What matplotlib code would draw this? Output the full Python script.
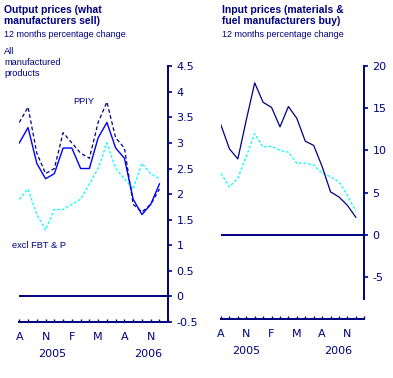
# producer prices: output vs input, 12 month % change
import matplotlib.pyplot as plt

navy = "#000080"
blue = "#0000ff"
cyan = "#00ffff"

# meses de ago/2005 a dez/2006
months = list(range(17))
tick_pos = [0, 3, 6, 9, 12, 15]
tick_lbl = ["A", "N", "F", "M", "A", "N"]

# output prices
out_all = [3.0, 3.3, 2.6, 2.3, 2.4, 2.9, 2.9, 2.5, 2.5, 3.1, 3.4, 2.9, 2.7, 1.9, 1.6, 1.8, 2.2]
out_ppiy = [3.4, 3.7, 2.8, 2.4, 2.5, 3.2, 3.0, 2.8, 2.7, 3.4, 3.8, 3.1, 2.9, 1.8, 1.65, 1.8, 2.1]
out_excl = [1.9, 2.1, 1.6, 1.3, 1.7, 1.7, 1.8, 1.9, 2.2, 2.5, 3.0, 2.5, 2.3, 2.1, 2.6, 2.4, 2.3]

# input prices
in_all = [13.0, 10.2, 9.0, 13.6, 18.0, 15.7, 15.1, 12.8, 15.2, 13.8, 11.1, 10.6, 8.1, 5.1, 4.5, 3.5, 2.1]
in_excl = [7.3, 5.7, 6.7, 9.3, 12.0, 10.4, 10.5, 10.0, 9.8, 8.5, 8.5, 8.3, 7.3, 6.9, 6.3, 4.7, 2.8]

fig = plt.figure(figsize=(3.93, 3.78), dpi=100)
ax1 = fig.add_axes([0.0491, 0.148, 0.379, 0.677])
ax2 = fig.add_axes([0.5623, 0.1548, 0.3646, 0.6706])


def style(ax, ylo, yhi, yticks, spine_lo):
	for s in ["top", "left"]:
		ax.spines[s].set_visible(False)
	for s in ["right", "bottom"]:
		ax.spines[s].set_color(navy)
		ax.spines[s].set_linewidth(1.4)
	ax.spines["right"].set_bounds(spine_lo, yhi)
	ax.set_xlim(0, 17)
	ax.set_ylim(ylo, yhi)
	ax.yaxis.tick_right()
	ax.set_yticks(yticks)
	ax.set_yticklabels([("%g" % v) for v in yticks])
	ax.tick_params(axis="y", direction="out", length=3, width=1.2, colors=navy,
				   labelsize=8, pad=3)
	labels = ["" for i in range(18)]
	for p, l in zip(tick_pos, tick_lbl):
		labels[p] = l
	ax.set_xticks(range(18))
	ax.set_xticklabels(labels)
	ax.tick_params(axis="x", direction="in", length=2.5, width=1, colors=navy,
				   labelsize=8, pad=7)
	ax.axhline(0, color=navy, lw=1.4)
	ax.patch.set_visible(False)


style(ax1, -0.5, 4.5, [-0.5, 0, 0.5, 1, 1.5, 2, 2.5, 3, 3.5, 4, 4.5], -0.5)
style(ax2, -10, 20, [-5, 0, 5, 10, 15, 20], -7.6)

ax1.plot(months, out_excl, color=cyan, lw=0.9, dashes=(2.2, 1.5))
ax1.plot(months, out_ppiy, color=navy, lw=0.9, dashes=(3, 2))
ax1.plot(months, out_all, color=blue, lw=1.0)

ax2.plot(months, in_excl, color=cyan, lw=0.9, dashes=(2.2, 1.5))
ax2.plot(months, in_all, color=navy, lw=0.9)

# anos
for ax, x05, x06 in [(ax1, 3.75, 14.7), (ax2, 3.0, 13.9)]:
	ax.text(x05, -0.125, "2005", transform=ax.get_xaxis_transform(), ha="center",
			va="center", color=navy, fontsize=8)
	ax.text(x06, -0.125, "2006", transform=ax.get_xaxis_transform(), ha="center",
			va="center", color=navy, fontsize=8)

# titulos
tf = "Liberation Sans"
fig.text(4 / 393, 1 - 5 / 378, "Output prices (what\nmanufacturers sell)", ha="left",
		 va="top", color=navy, fontsize=7.5, fontweight="bold", family=tf, linespacing=1.15)
fig.text(4 / 393, 1 - 34.5 / 378, "12 months percentage change", ha="left", va="center",
		 color=navy, fontsize=6.5, family=tf)
fig.text(222 / 393, 1 - 5 / 378, "Input prices (materials &\nfuel manufacturers buy)",
		 ha="left", va="top", color=navy, fontsize=7.5, fontweight="bold", family=tf,
		 linespacing=1.15)
fig.text(222 / 393, 1 - 34.5 / 378, "12 months percentage change", ha="left",
		 va="center", color=navy, fontsize=6.5, family=tf)

fig.text(4 / 393, 1 - 47 / 378, "All\nmanufactured\nproducts", ha="left", va="top",
		 color=navy, fontsize=6.7, family=tf, linespacing=1.3)
fig.text(73 / 393, 1 - 102 / 378, "PPIY", ha="left", va="center", color=navy,
		 fontsize=6.7, family=tf)
fig.text(12 / 393, 1 - 245 / 378, "excl FBT & P", ha="left", va="center", color=navy,
		 fontsize=6.7, family=tf)

fig.savefig("out.png", dpi=100)
